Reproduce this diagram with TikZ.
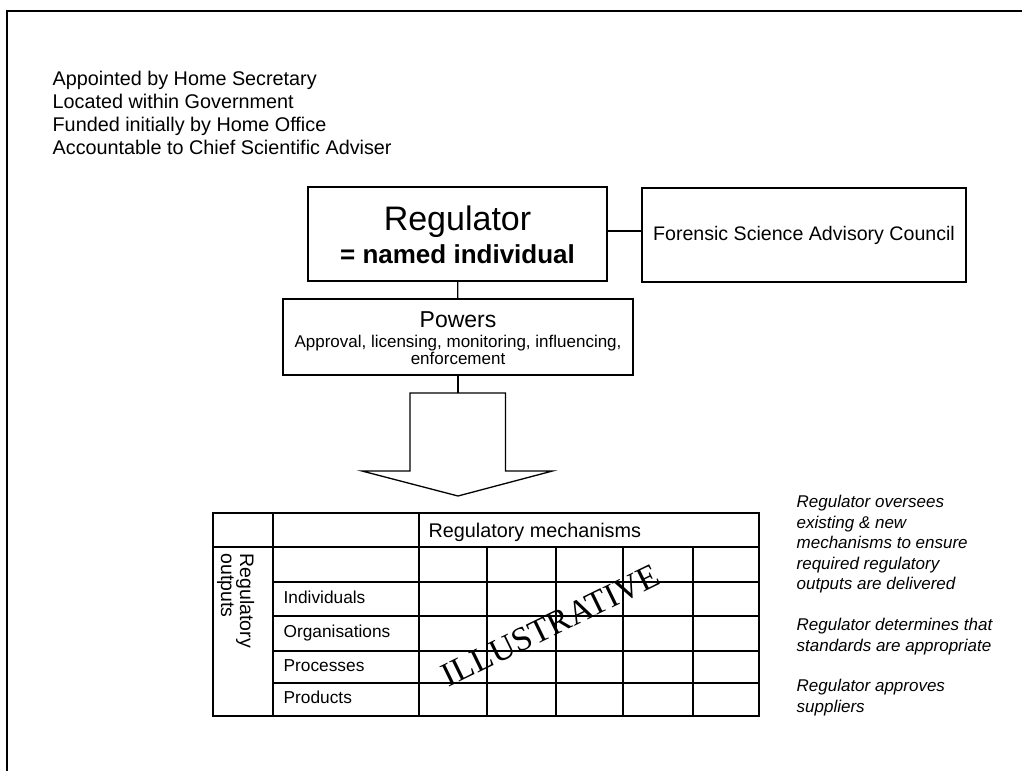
\documentclass[tikz,border=0pt]{standalone}
\usepackage{fontspec}
\setmainfont{Liberation Sans}
\newfontfamily\stampfont{Liberation Serif}
\begin{document}
\begin{tikzpicture}[x=1pt,y=-1pt,line width=1.3pt,
    box/.style={draw,line width=1.4pt,inner sep=0pt},
    info/.style={anchor=base west,inner sep=0pt,font=\fontsize{19.8}{23}\selectfont},
    note/.style={anchor=base west,inner sep=0pt,font=\fontsize{17}{20}\selectfont\itshape},
    cell/.style={anchor=base west,inner sep=0pt,font=\fontsize{17.3}{20}\selectfont}]
  \useasboundingbox (0,0) rectangle (1022,771);
  \draw[line width=2pt] (7,771) -- (7,11) -- (1022,11);

  \foreach \t [count=\i] in {Appointed by Home Secretary,Located within Government,Funded initially by Home Office,Accountable to Chief Scientific Adviser}
    \node[info] (info\i) at (52,62+23*\i) {\t};

  \node[box,minimum width=299pt,minimum height=94pt] (reg) at (457.5,234) {};
  \node[anchor=base,font=\fontsize{34}{36}\selectfont] (regname) at (457.5,230) {Regulator};
  \node[anchor=base,font=\fontsize{26}{28}\selectfont\bfseries] (regsub) at (457.5,263) {= named individual};

  \node[box,minimum width=324pt,minimum height=94pt,font=\fontsize{19.6}{23}\selectfont] (fsac) at (804,235) {Forensic Science Advisory Council};

  \node[box,minimum width=350pt,minimum height=76pt] (pow) at (458,337) {};
  \node[anchor=base,font=\fontsize{23}{25}\selectfont] (powname) at (458,327) {Powers};
  \node[anchor=base,font=\fontsize{17}{20}\selectfont] (powlist) at (458,347) {Approval, licensing, monitoring, influencing,};
  \node[anchor=base,font=\fontsize{17}{20}\selectfont] (powlist2) at (458,364) {enforcement};

  \draw ([yshift=3pt]reg.east) -- ([yshift=3pt]reg.east -| fsac.west);
  \draw (reg) -- (pow);

  \coordinate (arrtop) at (458,393);
  \draw (pow) -- (arrtop);
  \draw (arrtop) -- ++(47.5,0) -- ++(0,78) -- ++(47,0) -- (458,496) -- (362,471) -- ++(48,0) -- ++(0,-78) -- cycle;

  \draw[line width=2.5pt] (213,513) rectangle (759,716);
  \draw (213,547) -- (759,547);
  \draw (273,513) -- (273,716);
  \draw (419,513) -- (419,716);
  \foreach \y in {582,616,651,683} \draw (273,\y) -- (759,\y);
  \foreach \x in {487,556,623,693} \draw (\x,547) -- (\x,716);

  \node[cell,font=\fontsize{19.8}{22}\selectfont] (mech) at (428,537) {Regulatory mechanisms};
  \node[cell,rotate=-90,font=\fontsize{19.5}{22}\selectfont] (outa) at (240,553) {Regulatory};
  \node[cell,rotate=-90,font=\fontsize{19.5}{22}\selectfont] (outb) at (221,553) {outputs};
  \foreach \t/\y [count=\i] in {Individuals/603,Organisations/637,Processes/671,Products/703}
    \node[cell] (row\i) at (283,\y) {\t};

  \node[anchor=base west,inner sep=0pt,rotate=26,font=\stampfont\fontsize{34}{36}\selectfont] (stamp) at (448,688) {ILLUSTRATIVE};

  \foreach \t/\y [count=\i] in {Regulator oversees/507.5,existing \& new/528,mechanisms to ensure/548.5,required regulatory/569,outputs are delivered/589.5,Regulator determines that/630.5,standards are appropriate/651,Regulator approves/691.5,suppliers/712}
    \node[note] (note\i) at (796,\y) {\t};
\end{tikzpicture}
\end{document}
